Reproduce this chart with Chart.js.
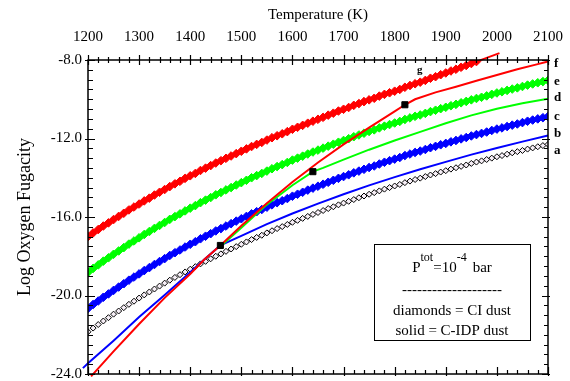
<!DOCTYPE html>
<html><head><meta charset="utf-8">
<script src="https://cdn.jsdelivr.net/npm/chart.js@4.4.0/dist/chart.umd.min.js"></script>
<style>html,body{margin:0;padding:0;background:#fff;}#wrap{width:570px;height:381px;}</style>
</head><body><div id="wrap"><canvas id="c" width="570" height="381"></canvas></div>
<script>
// ---------- data ----------
const temps = [1200,1210,1220,1230,1240,1250,1260,1270,1280,1290,
1300,1310,1320,1330,1340,1350,1360,1370,1380,1390,
1400,1410,1420,1430,1440,1450,1460,1470,1480,1490,
1500,1510,1520,1530,1540,1550,1560,1570,1580,1590,
1600,1610,1620,1630,1640,1650,1660,1670,1680,1690,
1700,1710,1720,1730,1740,1750,1760,1770,1780,1790,
1800,1810,1820,1830,1840,1850,1860,1870,1880,1890,
1900,1910,1920,1930,1940,1950,1960,1970,1980,1990,
2000,2010,2020,2030,2040,2050,2060,2070,2080,2090,2100];

// a: CI dust (open diamonds)
const aVals = [-21.85,-21.66,-21.48,-21.30,-21.13,-20.95,-20.79,-20.62,-20.45,-20.29,
-20.13,-19.97,-19.82,-19.67,-19.52,-19.37,-19.22,-19.08,-18.94,-18.80,
-18.66,-18.53,-18.39,-18.26,-18.13,-18.00,-17.88,-17.75,-17.63,-17.51,
-17.39,-17.27,-17.15,-17.04,-16.93,-16.81,-16.70,-16.59,-16.49,-16.38,
-16.27,-16.17,-16.07,-15.97,-15.87,-15.77,-15.67,-15.57,-15.48,-15.38,
-15.29,-15.20,-15.11,-15.02,-14.93,-14.84,-14.76,-14.67,-14.58,-14.50,
-14.42,-14.34,-14.25,-14.17,-14.09,-14.02,-13.94,-13.86,-13.79,-13.71,
-13.64,-13.56,-13.49,-13.42,-13.35,-13.27,-13.20,-13.14,-13.07,-13.00,
-12.93,-12.87,-12.80,-12.73,-12.67,-12.61,-12.54,-12.48,-12.42,-12.36,-12.30];

// c: blue diamonds
const cVals = [-20.66,-20.46,-20.28,-20.09,-19.92,-19.74,-19.57,-19.40,-19.22,-19.06,
-18.90,-18.73,-18.58,-18.42,-18.27,-18.12,-17.96,-17.82,-17.68,-17.53,
-17.39,-17.26,-17.11,-16.98,-16.85,-16.71,-16.59,-16.46,-16.34,-16.21,
-16.09,-15.97,-15.84,-15.73,-15.62,-15.50,-15.38,-15.27,-15.17,-15.06,
-14.94,-14.84,-14.74,-14.63,-14.53,-14.43,-14.33,-14.23,-14.13,-14.03,
-13.94,-13.85,-13.75,-13.66,-13.57,-13.48,-13.40,-13.30,-13.21,-13.13,
-13.05,-12.97,-12.87,-12.79,-12.71,-12.64,-12.56,-12.47,-12.40,-12.32,
-12.25,-12.17,-12.10,-12.02,-11.95,-11.87,-11.80,-11.74,-11.67,-11.59,
-11.52,-11.46,-11.39,-11.32,-11.26,-11.19,-11.12,-11.06,-11.00,-10.94,-10.88];

// e: green diamonds
const eVals = [-18.82,-18.62,-18.44,-18.25,-18.08,-17.90,-17.73,-17.56,-17.38,-17.22,
-17.06,-16.89,-16.74,-16.58,-16.43,-16.28,-16.12,-15.98,-15.84,-15.69,
-15.55,-15.42,-15.27,-15.14,-15.01,-14.87,-14.75,-14.62,-14.50,-14.37,
-14.25,-14.13,-14.00,-13.89,-13.78,-13.66,-13.54,-13.43,-13.33,-13.22,
-13.10,-13.00,-12.90,-12.79,-12.69,-12.59,-12.49,-12.39,-12.29,-12.19,
-12.10,-12.01,-11.91,-11.82,-11.73,-11.64,-11.56,-11.46,-11.37,-11.29,
-11.21,-11.13,-11.03,-10.95,-10.87,-10.80,-10.72,-10.63,-10.56,-10.48,
-10.41,-10.33,-10.26,-10.18,-10.11,-10.03,-9.96,-9.90,-9.83,-9.75,
-9.68,-9.62,-9.55,-9.48,-9.42,-9.35,-9.28,-9.22,-9.16,-9.10,-9.04];

// g: red diamonds (1200..1960)
const gVals = [-17.00,-16.81,-16.64,-16.46,-16.30,-16.13,-15.97,-15.81,-15.64,-15.49,
-15.34,-15.18,-15.04,-14.88,-14.74,-14.60,-14.45,-14.31,-14.18,-14.03,
-13.90,-13.78,-13.63,-13.51,-13.38,-13.25,-13.13,-13.01,-12.89,-12.77,
-12.65,-12.53,-12.41,-12.30,-12.20,-12.08,-11.96,-11.86,-11.76,-11.65,
-11.53,-11.43,-11.33,-11.22,-11.12,-11.02,-10.92,-10.81,-10.71,-10.60,
-10.51,-10.42,-10.31,-10.22,-10.12,-10.03,-9.95,-9.84,-9.75,-9.67,
-9.59,-9.50,-9.39,-9.30,-9.21,-9.13,-9.04,-8.93,-8.85,-8.75,
-8.66,-8.56,-8.47,-8.37,-8.28,-8.18,-8.08];
const gExtT = [1960, 2005];
const gExtV = [-8.08, -7.65];

// f: red solid
const fT = [1206,1250,1300,1350,1400,1428,1459,1500,1550,1600,1650,1700,1750,1800,1820,1840,1880,1920,1960,2000,2040,2080,2100];
const fV = [-24.12,-22.85,-21.45,-20.12,-18.9,-18.15,-17.45,-16.45,-15.3,-14.22,-13.22,-12.3,-11.45,-10.62,-10.28,-10.0,-9.65,-9.36,-9.06,-8.76,-8.47,-8.21,-8.08];

// d: green solid
const dT = [1459,1500,1546,1600,1640,1660,1700,1750,1800,1850,1900,1950,2000,2050,2100];
const dV = [-17.5,-16.55,-15.45,-14.38,-13.69,-13.5,-13.08,-12.57,-12.1,-11.66,-11.22,-10.82,-10.48,-10.2,-9.97];

// b: blue solid
const bT = [1190,1200,1250,1300,1350,1400,1428,1459,1500,1550,1600,1650,1700,1750,1800,1850,1900,1950,2000,2050,2100];
const bV = [-23.7,-23.45,-22.3,-21.1,-19.98,-18.82,-18.15,-17.45,-16.96,-16.36,-15.82,-15.32,-14.84,-14.39,-13.97,-13.57,-13.19,-12.82,-12.48,-12.16,-11.85];

// black squares
const sqT = [1459, 1640, 1820];
const sqV = [-17.45, -13.69, -10.28];

// axis ticks
const xTickVals = [1200,1300,1400,1500,1600,1700,1800,1900,2000,2100];
const xTickLabels = ['1200','1300','1400','1500','1600','1700','1800','1900','2000','2100'];
const yTickVals = [-24,-20,-16,-12,-8];
const yTickLabels = ['-24.0','-20.0','-16.0','-12.0','-8.0'];
const xMinorStep = 20, yMinorStep = 0.5;

// curve labels
const curveLabels = ['a','b','c','d','e','f'];
const curveLabelY = [-12.6,-11.76,-10.87,-9.94,-9.1,-8.17];
const gLabel = {text:'g', x:1849, y:-8.51};

// ---------- chart ----------
const FONT = "'Liberation Serif','Times New Roman',serif";
const pts = (xs, ys) => ys.map((v,i)=>({x:xs[i], y:v}));

const decor = {
  id:'decor',
  afterDraw(chart){
    const {ctx, chartArea:ca, scales:{x,y}} = chart;
    ctx.save();
    ctx.strokeStyle = '#000';
    ctx.lineWidth = 1.5;
    ctx.strokeRect(ca.left, ca.top, ca.right-ca.left, ca.bottom-ca.top);
    ctx.lineWidth = 1.2;
    ctx.beginPath();
    for (let t = x.min; t <= x.max + 0.001; t += xMinorStep) {
      const px = Math.round(x.getPixelForValue(t)) + 0.5;
      const major = xTickVals.includes(Math.round(t));
      ctx.moveTo(px, ca.top - (major?5:3)); ctx.lineTo(px, ca.top + (major?5:3));
      ctx.moveTo(px, ca.bottom + (major?2:0)); ctx.lineTo(px, ca.bottom - (major?7:4));
    }
    for (let v = y.min; v <= y.max + 0.001; v += yMinorStep) {
      const py = Math.round(y.getPixelForValue(v)) + 0.5;
      const major = yTickVals.includes(Math.round(v*10)/10);
      ctx.moveTo(ca.left - (major?3:0), py); ctx.lineTo(ca.left + (major?7:5), py);
      ctx.moveTo(ca.right + (major?2:0), py); ctx.lineTo(ca.right - (major?6:4), py);
    }
    ctx.stroke();

    // curve labels
    ctx.fillStyle = '#000';
    ctx.font = 'bold 13px ' + FONT;
    ctx.textBaseline = 'middle';
    ctx.textAlign = 'left';
    curveLabels.forEach((s,i)=>{
      ctx.fillText(s, ca.right + 6, y.getPixelForValue(curveLabelY[i]));
    });
    ctx.font = 'bold 11px ' + FONT;
    ctx.textAlign = 'center';
    ctx.fillText(gLabel.text, x.getPixelForValue(gLabel.x), y.getPixelForValue(gLabel.y));

    // legend box
    ctx.lineWidth = 1;
    ctx.strokeRect(374.5, 244.5, 156, 96);
    ctx.textBaseline = 'alphabetic';
    ctx.textAlign = 'left';
    const parts = [['P',15,0,0],['tot',12,-11,0],['=10',15,0,0],['-4',12,-11,0],['bar',15,0,6]];
    let wsum = 0;
    parts.forEach(p=>{ ctx.font = p[1]+'px '+FONT; wsum += p[3] + ctx.measureText(p[0]).width; });
    let cx = 452 - wsum/2;
    parts.forEach(p=>{ ctx.font = p[1]+'px '+FONT; cx += p[3]; ctx.fillText(p[0], cx, 272 + p[2]); cx += ctx.measureText(p[0]).width; });
    ctx.font = '15px ' + FONT;
    ctx.textAlign = 'center';
    ctx.fillText('--------------------', 452, 294);
    ctx.fillText('diamonds = CI dust', 452, 315);
    ctx.fillText('solid = C-IDP dust', 452, 334.5);
    ctx.restore();
  }
};

const diamond = (label, xs, ys, color, order) => ({
  label, data: pts(xs, ys), showLine: true, borderColor: color, borderWidth: 2,
  pointStyle: 'rectRot', pointRadius: 4.3, pointBackgroundColor: color, pointBorderColor: color,
  pointBorderWidth: 1, order
});
const solid = (label, xs, ys, color, order, clip) => ({
  label, data: pts(xs, ys), showLine: true, borderColor: color, borderWidth: 2,
  pointRadius: 0, order, clip: clip ? false : undefined, tension: 0
});

new Chart(document.getElementById('c'), {
  type: 'scatter',
  data: { datasets: [
    {label:'squares', data: pts(sqT, sqV), pointStyle:'rect', pointRadius:4.3,
     pointBackgroundColor:'#000', pointBorderColor:'#000', pointBorderWidth:1, showLine:false, order:0},
    solid('f', fT, fV, '#ff0000', 1, true),
    solid('d', dT, dV, '#00ff00', 2, false),
    solid('b', bT, bV, '#0000ff', 3, true),
    solid('g ext', gExtT, gExtV, '#ff0000', 4, true),
    diamond('g', temps.slice(0, gVals.length), gVals, '#ff0000', 5),
    diamond('e', temps, eVals, '#00ff00', 6),
    diamond('c', temps, cVals, '#0000ff', 7),
    {label:'a', data: pts(temps, aVals), showLine:false, pointStyle:'rectRot', pointRadius:3,
     pointBackgroundColor:'#f6eef6', pointBorderColor:'#000', pointBorderWidth:1, order:8}
  ]},
  options: {
    responsive: false, animation: false, devicePixelRatio: 1,
    layout: { padding: { left: 0, right: 22, top: 0, bottom: 7 } },
    plugins: { legend: { display: false }, tooltip: { enabled: false } },
    scales: {
      x: {
        type: 'linear', position: 'top', min: 1200, max: 2100,
        afterFit: s => { s.height = 60; s.paddingLeft = 0; s.paddingRight = 0; },
        grid: { display: false, drawTicks: false }, border: { display: false },
        ticks: { stepSize: 100, padding: 14, color: '#000', font: { family: FONT, size: 15 },
          maxRotation: 0, autoSkip: false,
          callback: v => { const i = xTickVals.indexOf(v); return i >= 0 ? xTickLabels[i] : ''; } },
        title: { display: true, text: 'Temperature (K)', color: '#000', font: { family: FONT, size: 15 }, padding: { top: 6, bottom: 0 } }
      },
      y: {
        type: 'linear', position: 'left', min: -24, max: -8,
        afterFit: s => { s.width = 88; s.paddingTop = 0; s.paddingBottom = 0; },
        grid: { display: false, drawTicks: false }, border: { display: false },
        ticks: { stepSize: 4, padding: 6, color: '#000', font: { family: FONT, size: 15 },
          callback: v => { const i = yTickVals.indexOf(v); return i >= 0 ? yTickLabels[i] : ''; } },
        title: { display: true, text: 'Log Oxygen Fugacity', color: '#000', font: { family: FONT, size: 18 }, padding: { top: 14, bottom: 0 } }
      }
    }
  },
  plugins: [decor]
});
</script></body></html>
